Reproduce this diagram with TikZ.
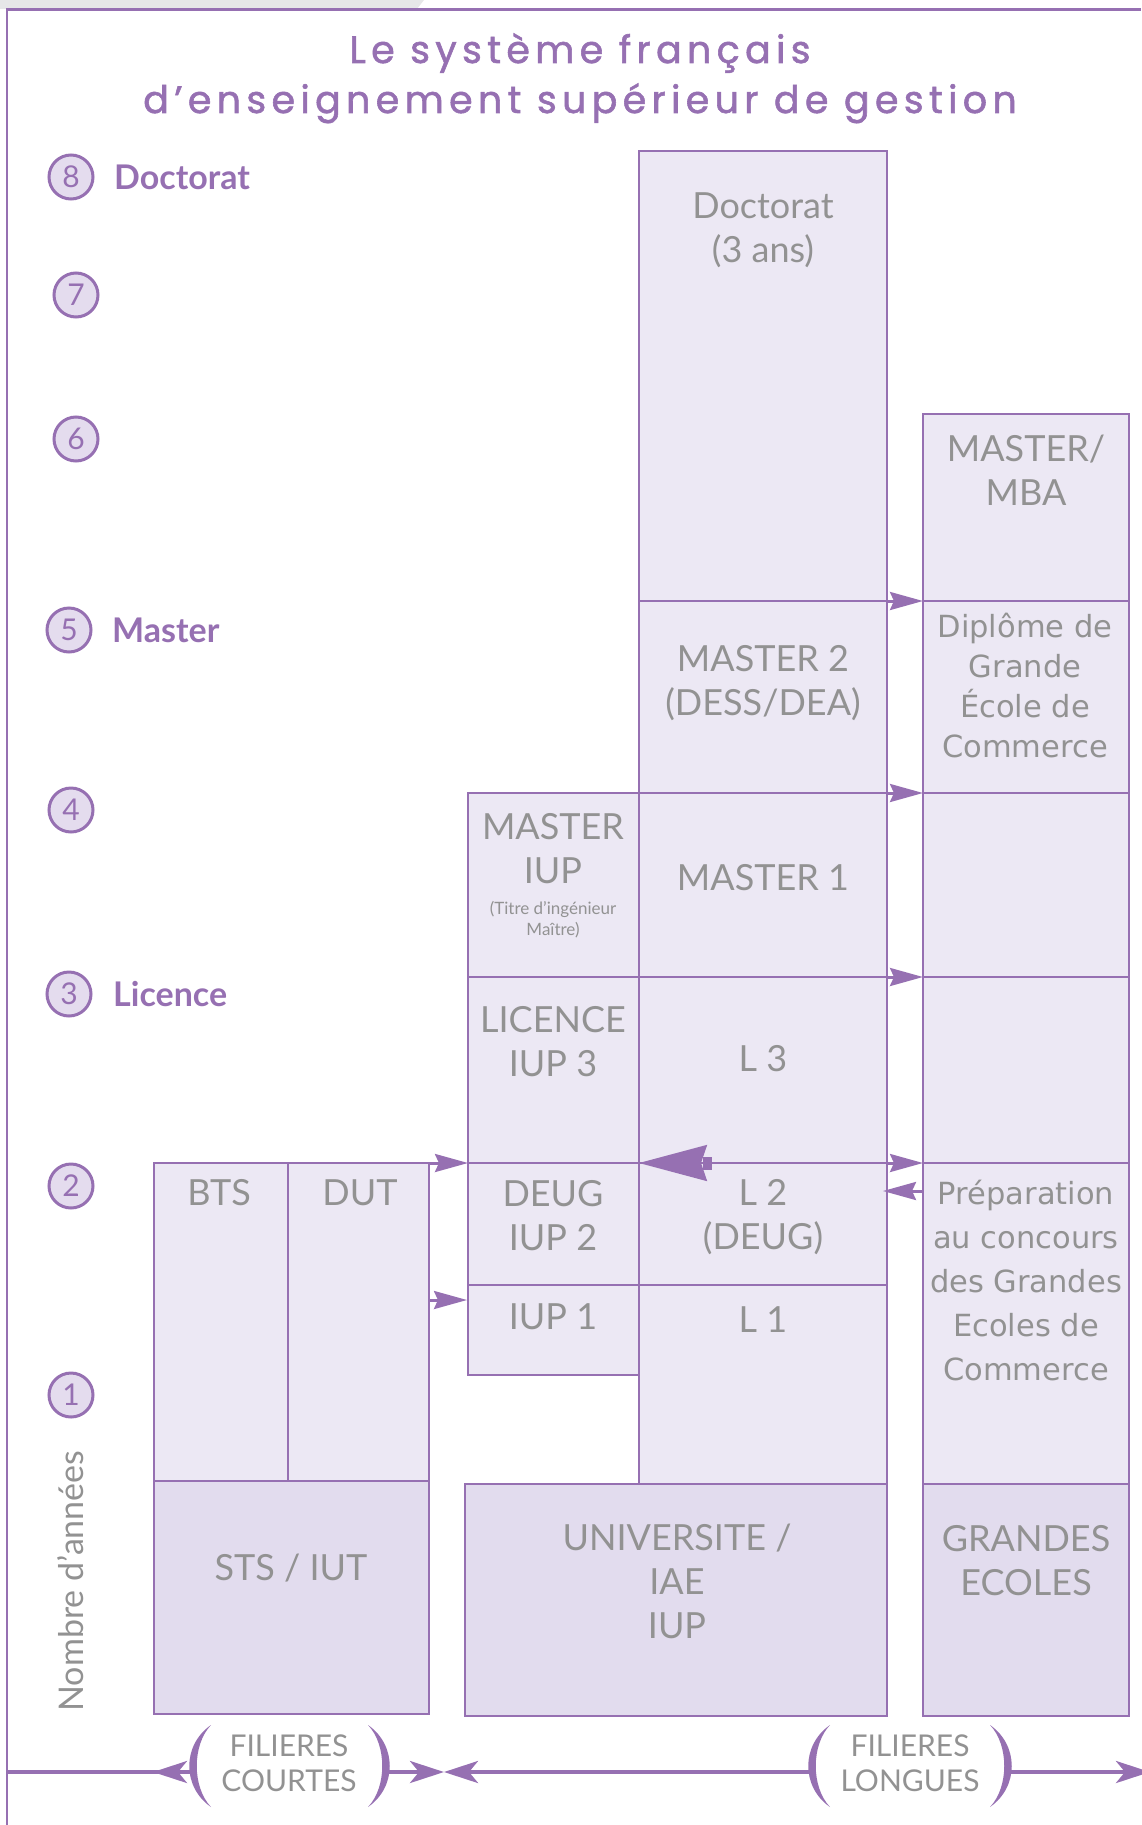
\documentclass[tikz,border=0pt]{standalone}
\usepackage{fontspec}
\setmainfont{Lato}
\newfontfamily\titlefont{Poppins}[LetterSpace=14,FakeBold=1.5]
\newfontfamily\verdfont{DejaVu Sans}
\usetikzlibrary{arrows.meta}
\definecolor{pur}{RGB}{150,112,178}
\definecolor{boxfill}{RGB}{236,232,244}
\definecolor{basefill}{RGB}{226,220,238}
\definecolor{circfill}{RGB}{228,220,238}
\definecolor{txtgray}{RGB}{146,146,146}
\definecolor{band}{RGB}{230,231,232}
\tikzset{
  box/.style={rectangle, draw=pur, line width=2.5pt, fill=boxfill, inner sep=0pt, outer sep=0pt},
  basebox/.style={box, fill=basefill},
  boxtext/.style={text=txtgray, font=\fontsize{36}{44}\selectfont, align=center, inner sep=0pt},
  smalltext/.style={text=txtgray, font=\fontsize{17}{21}\selectfont, align=center, inner sep=0pt},
  vtext/.style={text=txtgray, font=\verdfont\fontsize{30.5}{40}\selectfont, align=center, inner sep=0pt},
  vtextb/.style={text=txtgray, font=\verdfont\fontsize{30.5}{44}\selectfont, align=center, inner sep=0pt},
  ftext/.style={text=txtgray, font=\fontsize{30}{35}\selectfont, align=center, inner sep=0pt},
  circ/.style={circle, draw=pur, line width=3pt, fill=circfill, minimum size=44pt, inner sep=0pt, text=pur, font=\fontsize{30}{30}\selectfont},
  lbl/.style={text=pur, font=\bfseries\fontsize{34}{34}\selectfont, inner sep=0pt, anchor=west},
  ttl/.style={text=pur, font=\titlefont\fontsize{38}{38}\selectfont, inner sep=0pt, anchor=base},
  arr/.style={draw=pur, line width=3pt, -{Stealth[length=33pt,width=18pt,inset=4pt]}},
  bigarr/.style={draw=pur, line width=2.5pt, -{Stealth[length=68pt,width=36pt,inset=6pt]}},
  axline/.style={draw=pur, line width=4pt},
  axarr/.style={draw=pur, line width=4pt, -{Stealth[length=34pt,width=22pt,inset=9pt]}},
  frame/.style={draw=pur, line width=2.5pt}
}
\begin{document}
\begin{tikzpicture}[x=1pt,y=-1pt]
\useasboundingbox (0,0) rectangle (1141,1825);
% top band and frame
\fill[band] (0,0) -- (424,0) -- (417,9) -- (0,9) -- cycle;
\draw[frame] (7,1825) -- (7,9.5) -- (1141,9.5);

% title
\node[ttl] (t1) at (580,63) {Le système français};
\node[ttl] (t2) at (580,113) {d’enseignement supérieur de gestion};

% middle column
\node[box, minimum width=248pt, minimum height=450pt] (doc) at (763,376) {};
\node[box, minimum width=248pt, minimum height=192pt] (m2) at (763,697) {};
\node[box, minimum width=248pt, minimum height=184pt] (m1) at (763,885) {};
\node[box, minimum width=248pt, minimum height=186pt] (l3) at (763,1070) {};
\node[box, minimum width=248pt, minimum height=122pt] (l2) at (763,1224) {};
\node[box, minimum width=248pt, minimum height=199pt] (l1) at (763,1384.5) {};
% IUP column
\node[box, minimum width=171pt, minimum height=184pt] (miup) at (553.5,885) {};
\node[box, minimum width=171pt, minimum height=186pt] (liup) at (553.5,1070) {};
\node[box, minimum width=171pt, minimum height=122pt] (diup) at (553.5,1224) {};
\node[box, minimum width=171pt, minimum height=90pt] (iup1) at (553.5,1330) {};
% right column
\node[box, minimum width=206pt, minimum height=187pt] (mba) at (1026,507.5) {};
\node[box, minimum width=206pt, minimum height=192pt] (dip) at (1026,697) {};
\node[box, minimum width=206pt, minimum height=184pt] (e1) at (1026,885) {};
\node[box, minimum width=206pt, minimum height=186pt] (e2) at (1026,1070) {};
\node[box, minimum width=206pt, minimum height=321pt] (prep) at (1026,1323.5) {};
% left column
\node[box, minimum width=134pt, minimum height=318pt] (bts) at (221,1322) {};
\node[box, minimum width=141pt, minimum height=318pt] (dut) at (358.5,1322) {};
% base row
\node[basebox, minimum width=275pt, minimum height=233pt] (sts) at (291.5,1597.5) {};
\node[basebox, minimum width=422pt, minimum height=232pt] (univ) at (676,1600) {};
\node[basebox, minimum width=206pt, minimum height=232pt] (ge) at (1026,1600) {};

% connectors
\draw[arr] (m2.north east) -- (dip.north west);
\draw[arr] (m1.north east) -- (e1.north west);
\draw[arr] (l3.north east) -- (e2.north west);
\draw[arr] (l2.north east) -- (prep.north west);
\coordinate (pb1) at (923,1191);
\coordinate (pb2) at (883,1191);
\draw[arr] (pb1) -- (pb2);
\draw[bigarr] (l2.north east) -- (l2.north west);
\fill[pur] (703,1156.5) rectangle (712,1169.5);
\draw[arr] (dut.north east) -- (diup.north west);
\coordinate (d1) at (429,1300);
\coordinate (d2) at (467,1300);
\draw[arr] (d1) -- (d2);

% box texts
\node[boxtext] (tdoc) at (763,230) {Doctorat\\(3 ans)};
\node[boxtext] (tm2) at (763,683) {MASTER 2\\(DESS/DEA)};
\node[boxtext] (tm1) at (763,878) {MASTER 1};
\node[boxtext] (tl3) at (763,1059) {L 3};
\node[boxtext] (tl2) at (763,1217) {L 2\\(DEUG)};
\node[boxtext] (tl1) at (763,1320) {L 1};
\node[boxtext] (tmiup) at (553,849) {MASTER\\IUP};
\node[smalltext] (ttitre) at (553,920) {(Titre d’ingénieur\\Maître)};
\node[boxtext] (tliup) at (553,1042) {LICENCE\\IUP 3};
\node[boxtext] (tdiup) at (553,1216) {DEUG\\IUP 2};
\node[boxtext] (tiup1) at (553,1317) {IUP 1};
\node[boxtext] (tbts) at (219,1193) {BTS};
\node[boxtext] (tdut) at (360,1193) {DUT};
\node[boxtext] (tsts) at (291,1568) {STS / IUT};
\node[boxtext] (tuniv) at (677,1581) {UNIVERSITE /\\IAE\\IUP};
\node[boxtext] (tge) at (1026,1561) {GRANDES\\ECOLES};
\node[boxtext] (tmba) at (1026,470) {MASTER/\\MBA};
\node[vtext] (tdip) at (1025,686) {Diplôme de\\Grande\\École de\\Commerce};
\node[vtextb] (tprep) at (1026,1281) {Préparation\\au concours\\des Grandes\\Ecoles de\\Commerce};

% year circles
\foreach \n/\x/\y in {8/71/177, 7/76/295, 6/76/439, 5/69/630, 4/71/810, 3/69/994, 2/71/1186, 1/71/1395}
  \node[circ] (c\n) at (\x,\y) {\n};
\node[lbl] (ldoc) at (114,177) {Doctorat};
\node[lbl] (lmas) at (112,630) {Master};
\node[lbl] (llic) at (113,994) {Licence};
\node[text=txtgray, font=\fontsize{34}{34}\selectfont, rotate=90, inner sep=0pt] (nb) at (71,1581) {Nombre d’années};

% bottom axis
\coordinate (ax0) at (7,1772);
\coordinate (ax1) at (190,1772);
\coordinate (ax2) at (153,1772);
\coordinate (ax3) at (388,1772);
\coordinate (ax4) at (444,1772);
\coordinate (ax5) at (811,1772);
\coordinate (ax6) at (1011,1772);
\coordinate (ax7) at (1150,1772);
\draw[axline] (ax0) -- (ax1);
\draw[axarr] (ax1) -- (ax2);
\draw[axarr] (ax3) -- (ax4);
\draw[axarr] (ax5) -- (ax4);
\draw[axarr] (ax6) -- (ax7);
% parentheses
\fill[pur] (211,1725) .. controls (182,1745) and (182,1787) .. (211,1807) .. controls (192,1787) and (192,1745) .. (211,1725) -- cycle;
\fill[pur] (368,1725) .. controls (397,1745) and (397,1787) .. (368,1807) .. controls (387,1787) and (387,1745) .. (368,1725) -- cycle;
\fill[pur] (830,1725) .. controls (801,1745) and (801,1787) .. (830,1807) .. controls (811,1787) and (811,1745) .. (830,1725) -- cycle;
\fill[pur] (990,1725) .. controls (1019,1745) and (1019,1787) .. (990,1807) .. controls (1009,1787) and (1009,1745) .. (990,1725) -- cycle;
\node[ftext] (fc) at (289,1763) {FILIERES\\COURTES};
\node[ftext] (fl) at (910,1763) {FILIERES\\LONGUES};
\end{tikzpicture}
\end{document}
